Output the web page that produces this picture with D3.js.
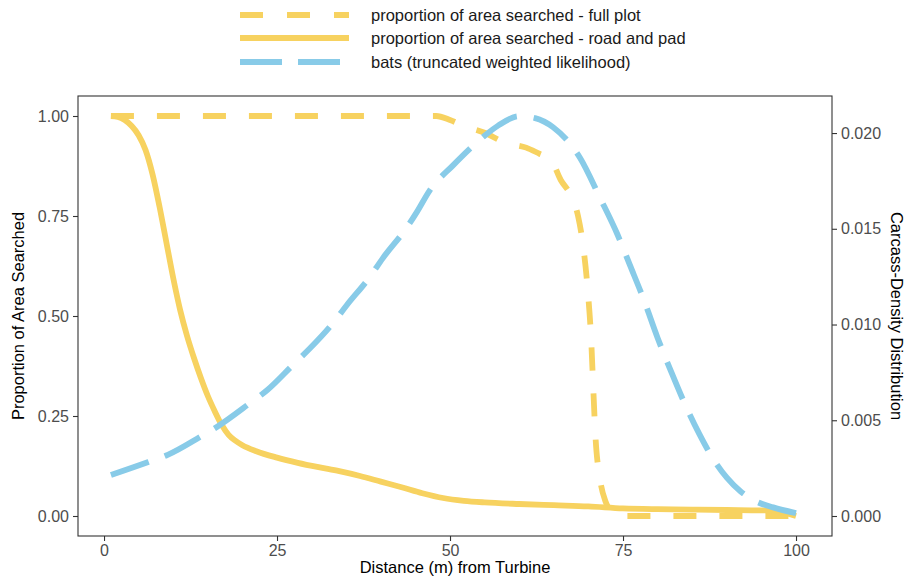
<!DOCTYPE html>
<html>
<head>
<meta charset="utf-8">
<script src="https://cdn.jsdelivr.net/npm/d3@7"></script>
<style>
  body { margin: 0; background: #fff; }
  text { font-family: "Liberation Sans", Arial, sans-serif; }
</style>
</head>
<body>
<svg id="chart" width="910" height="581"></svg>
<script>
// ---- data ----
const seriesNames = [
  "proportion of area searched - full plot",
  "proportion of area searched - road and pad",
  "bats (truncated weighted likelihood)"
];
const xTicks = [0, 25, 50, 75, 100];
const yLeftTicks = [0, 0.25, 0.5, 0.75, 1.0];
const yRightTicks = [0, 0.005, 0.010, 0.015, 0.020];

const fullPlotX = [1, 10, 20, 30, 40, 45, 48, 50, 52, 55, 58, 61, 63, 64.5, 66, 67.5, 68.5, 69.2, 69.9, 70.4, 70.7, 71, 71.7, 72.5, 73.5, 74.5, 80, 90, 100];
const fullPlotY = [1, 1, 1, 1, 1, 1, 1, 0.99, 0.975, 0.958, 0.933, 0.921, 0.905, 0.893, 0.84, 0.8, 0.75, 0.68, 0.565, 0.44, 0.32, 0.205, 0.09, 0.035, 0.01, 0, 0, 0, 0];

const roadPadX = [1, 2, 3, 4, 5, 6, 7, 8, 9, 10, 11, 12, 13, 14, 15, 16, 17, 18, 19, 20, 22, 25, 28, 31, 34, 37, 40, 43, 46, 49, 52, 55, 60, 65, 70, 75, 80, 85, 90, 95, 97, 98, 99, 100];
const roadPadY = [1, 0.998, 0.99, 0.975, 0.952, 0.915, 0.855, 0.775, 0.685, 0.595, 0.515, 0.45, 0.395, 0.345, 0.30, 0.262, 0.228, 0.203, 0.188, 0.177, 0.162, 0.146, 0.133, 0.122, 0.112, 0.1, 0.086, 0.072, 0.057, 0.045, 0.038, 0.034, 0.03, 0.027, 0.024, 0.019, 0.017, 0.016, 0.015, 0.014, 0.013, 0.01, 0.005, 0];

const batsX = [1, 6.4, 9.2, 13.9, 16.3, 21.1, 23.6, 27.3, 29.8, 33.1, 35.1, 38.4, 40.3, 43.8, 45.2, 47.1, 50.4, 54.8, 57, 60, 62.3, 64.9, 68.8, 71.7, 74.2, 76, 78, 80, 82, 84, 86, 88, 90, 92, 94, 96.7, 100];
const batsY = [0.00214, 0.00282, 0.00319, 0.00413, 0.00465, 0.0059, 0.00658, 0.00789, 0.00877, 0.01008, 0.01102, 0.01248, 0.01347, 0.01509, 0.01587, 0.01702, 0.0183, 0.0198, 0.0204, 0.02088, 0.02078, 0.0203, 0.0187, 0.0166, 0.0147, 0.0131, 0.0113, 0.0093, 0.0075, 0.0058, 0.0043, 0.0030, 0.0020, 0.00128, 0.0008, 0.00045, 0.00015];

// ---- layout ----
const svg = d3.select("#chart");
const panel = { left: 78, right: 832, top: 96, bottom: 536 };
const yellow = "#F7D260", blue = "#88CBE8";
const lw = 5.8;

const x = d3.scaleLinear().domain([-3.76, 105.2]).range([panel.left, panel.right]);
const yL = d3.scaleLinear().domain([-0.05, 1.05]).range([panel.bottom, panel.top]);
const batsMax = 0.02089;
const yR = d3.scaleLinear().domain([-0.05 * batsMax, 1.05 * batsMax]).range([panel.bottom, panel.top]);

// clip
svg.append("defs").append("clipPath").attr("id", "clip")
  .append("rect").attr("x", panel.left).attr("y", panel.top)
  .attr("width", panel.right - panel.left).attr("height", panel.bottom - panel.top);

const g = svg.append("g").attr("clip-path", "url(#clip)");

const lineL = d3.line().x(d => x(d[0])).y(d => yL(d[1])).curve(d3.curveMonotoneX);
const lineR = d3.line().x(d => x(d[0])).y(d => yR(d[1])).curve(d3.curveMonotoneX);

g.append("path").datum(d3.zip(fullPlotX, fullPlotY))
  .attr("d", lineL).attr("fill", "none").attr("stroke", yellow)
  .attr("stroke-width", lw).attr("stroke-dasharray", "23,23");

g.append("path").datum(d3.zip(roadPadX, roadPadY))
  .attr("d", lineL).attr("fill", "none").attr("stroke", yellow)
  .attr("stroke-width", lw).attr("stroke-linejoin", "round");

g.append("path").datum(d3.zip(batsX, batsY))
  .attr("d", lineR).attr("fill", "none").attr("stroke", blue)
  .attr("stroke-width", lw).attr("stroke-dasharray", "40,17");

// panel border
svg.append("rect").attr("x", panel.left).attr("y", panel.top)
  .attr("width", panel.right - panel.left).attr("height", panel.bottom - panel.top)
  .attr("fill", "none").attr("stroke", "#333").attr("stroke-width", 1.1);

// axes
const tickColor = "#333", labColor = "#4D4D4D", fs = 16;
const ax = svg.append("g").attr("transform", `translate(0,${panel.bottom})`)
  .call(d3.axisBottom(x).tickValues(xTicks).tickFormat(d3.format("d")).tickSize(5).tickPadding(4));
const ayl = svg.append("g").attr("transform", `translate(${panel.left},0)`)
  .call(d3.axisLeft(yL).tickValues(yLeftTicks).tickFormat(d3.format(".2f")).tickSize(5).tickPadding(4));
const ayr = svg.append("g").attr("transform", `translate(${panel.right},0)`)
  .call(d3.axisRight(yR).tickValues(yRightTicks).tickFormat(d3.format(".3f")).tickSize(5).tickPadding(4));
[ax, ayl, ayr].forEach(a => {
  a.select(".domain").remove();
  a.selectAll(".tick line").attr("stroke", tickColor).attr("stroke-width", 1.1);
  a.selectAll(".tick text").attr("fill", labColor).style("font-size", fs + "px")
    .style("font-family", "'Liberation Sans', Arial, sans-serif");
});

// axis titles
svg.append("text").attr("x", (panel.left + panel.right) / 2).attr("y", 573)
  .attr("text-anchor", "middle").style("font-size", "16.5px").attr("fill", "#000")
  .text("Distance (m) from Turbine");
svg.append("text").attr("transform", `translate(24,${(panel.top + panel.bottom) / 2}) rotate(-90)`)
  .attr("text-anchor", "middle").style("font-size", "16.5px").attr("fill", "#000")
  .text("Proportion of Area Searched");
svg.append("text").attr("transform", `translate(891,${(panel.top + panel.bottom) / 2}) rotate(90)`)
  .attr("text-anchor", "middle").style("font-size", "16.5px").attr("fill", "#000")
  .text("Carcass-Density Distribution");

// legend
const legY = [15, 38, 62];
const legStyles = [
  { color: yellow, dash: "23,24" },
  { color: yellow, dash: null },
  { color: blue, dash: "42,16" }
];
const leg = svg.append("g");
seriesNames.forEach((name, i) => {
  const l = leg.append("line").attr("x1", 240).attr("x2", 349)
    .attr("y1", legY[i]).attr("y2", legY[i])
    .attr("stroke", legStyles[i].color).attr("stroke-width", lw);
  if (legStyles[i].dash) l.attr("stroke-dasharray", legStyles[i].dash);
  leg.append("text").attr("x", 371).attr("y", legY[i]).attr("dy", "0.35em")
    .style("font-size", "16.5px").attr("fill", "#1a1a1a").text(name);
});
</script>
</body>
</html>
